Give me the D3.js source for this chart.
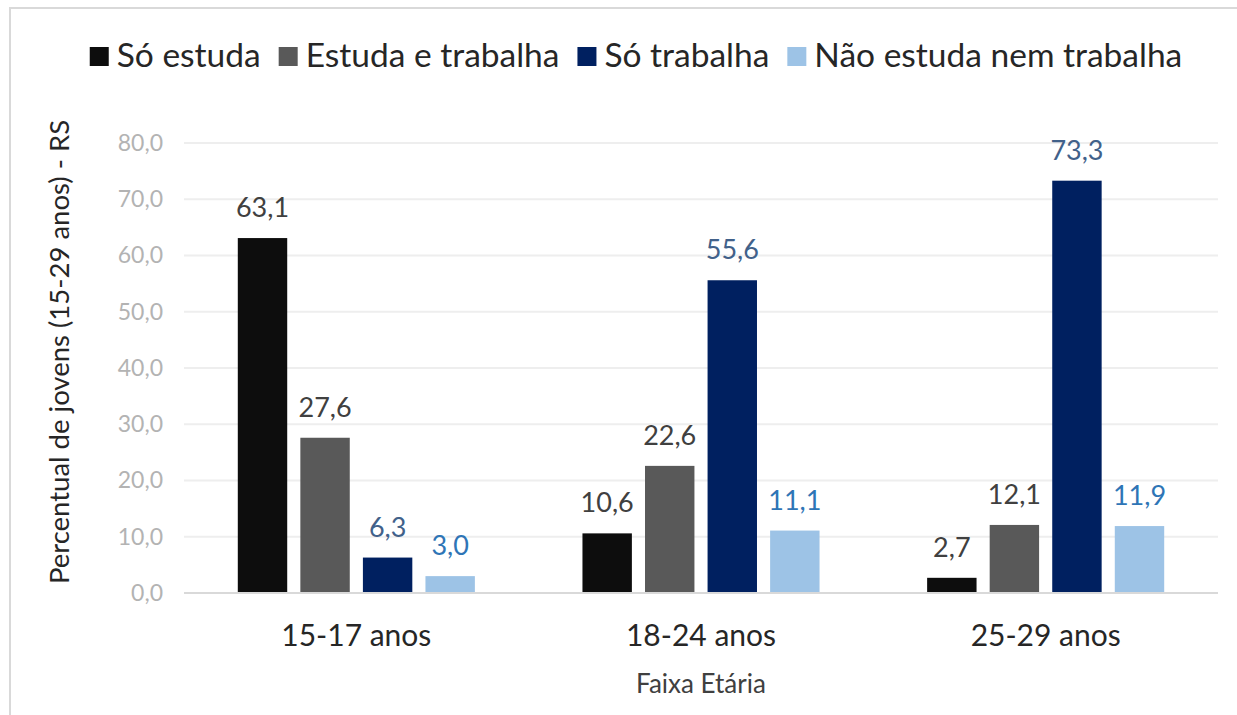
<!DOCTYPE html>
<html>
<head>
<meta charset="utf-8">
<script src="https://cdn.jsdelivr.net/npm/d3@7"></script>
<style>
  html, body { margin: 0; padding: 0; background: #fff; }
  svg { display: block; font-family: Lato, "Open Sans", sans-serif; }
</style>
</head>
<body>
<svg id="chart" width="1237" height="715"></svg>
<script>
// dados
const categories = ['15-17 anos', '18-24 anos', '25-29 anos'];
const seriesNames = ['Só estuda', 'Estuda e trabalha', 'Só trabalha', 'Não estuda nem trabalha'];
const soEstuda = [63.1, 10.6, 2.7];
const estudaTrabalha = [27.6, 22.6, 12.1];
const soTrabalha = [6.3, 55.6, 73.3];
const naoEstuda = [3.0, 11.1, 11.9];
const yTicks = [0, 10, 20, 30, 40, 50, 60, 70, 80];

const barColors = ['#0d0d0d', '#595959', '#002060', '#9dc3e6'];
const labelColors = ['#404040', '#404040', '#41618a', '#2e75b6'];

const seriesValues = [soEstuda, estudaTrabalha, soTrabalha, naoEstuda];
const rows = [];
seriesValues.forEach((vals, s) => {
  vals.forEach((v, c) => rows.push({ serie: seriesNames[s], cat: categories[c], value: v, idx: s }));
});

const fmt = v => d3.format('.1f')(v).replace('.', ',');

const svg = d3.select('#chart');

// moldura
svg.append('rect')
    .attr('x', 10).attr('y', 8)
    .attr('width', 1300).attr('height', 800)
    .attr('fill', '#fff')
    .attr('stroke', '#d9d9d9')
    .attr('stroke-width', 2);

// area do grafico
const plotLeft = 184, plotRight = 1218, plotTop = 143, plotBottom = 593;

const yScale = d3.scaleLinear().domain([0, 80]).range([plotBottom, plotTop]);
const x0 = d3.scaleBand().domain(categories).range([plotLeft, plotRight]).padding(0);
const x1 = d3.scaleBand().domain(seriesNames)
    .range([0, x0.bandwidth()])
    .paddingInner(0.21)
    .paddingOuter(0.86);

// linhas de grade
svg.append('g')
  .selectAll('line')
  .data(yTicks.filter(t => t > 0))
  .enter().append('line')
    .attr('x1', plotLeft).attr('x2', plotRight)
    .attr('y1', d => yScale(d)).attr('y2', d => yScale(d))
    .attr('stroke', '#eeeeee')
    .attr('stroke-width', 2);

// eixo y (so rotulos)
const yAxis = svg.append('g')
    .attr('transform', `translate(${plotLeft}, 0)`)
    .call(d3.axisLeft(yScale).tickValues(yTicks).tickFormat(fmt).tickSize(0).tickPadding(21));
yAxis.select('.domain').remove();
yAxis.selectAll('text')
    .attr('fill', '#b3b3b3')
    .style('font-size', '23px')
    .style('font-family', 'Lato, sans-serif');

// barras
svg.append('g')
  .selectAll('rect')
  .data(rows)
  .enter().append('rect')
    .attr('x', d => x0(d.cat) + x1(d.serie))
    .attr('y', d => yScale(d.value))
    .attr('width', x1.bandwidth())
    .attr('height', d => yScale(0) - yScale(d.value))
    .attr('fill', d => barColors[d.idx]);

// rotulos de dados
svg.append('g')
  .selectAll('text')
  .data(rows)
  .enter().append('text')
    .attr('x', d => x0(d.cat) + x1(d.serie) + x1.bandwidth() / 2)
    .attr('y', d => yScale(d.value) - 21)
    .attr('text-anchor', 'middle')
    .attr('fill', d => labelColors[d.idx])
    .style('font-size', '27px')
    .text(d => fmt(d.value));

// eixo x
svg.append('line')
    .attr('x1', plotLeft).attr('x2', plotRight)
    .attr('y1', plotBottom).attr('y2', plotBottom)
    .attr('stroke', '#d9d9d9')
    .attr('stroke-width', 2);

svg.append('g')
  .selectAll('text')
  .data(categories)
  .enter().append('text')
    .attr('x', d => x0(d) + x0.bandwidth() / 2)
    .attr('y', 646)
    .attr('text-anchor', 'middle')
    .attr('fill', '#262626')
    .style('font-size', '30px')
    .text(d => d);

// titulos dos eixos
svg.append('text')
    .attr('x', (plotLeft + plotRight) / 2)
    .attr('y', 693)
    .attr('text-anchor', 'middle')
    .attr('fill', '#404040')
    .style('font-size', '26px')
    .text('Faixa Etária');

svg.append('text')
    .attr('transform', 'translate(69, 352) rotate(-90)')
    .attr('text-anchor', 'middle')
    .attr('fill', '#262626')
    .style('font-size', '27.5px')
    .text('Percentual de jovens (15-29 anos) - RS');

// legenda
const legend = svg.append('g');
const items = legend.selectAll('g')
  .data(seriesNames)
  .enter().append('g');

items.append('rect')
    .attr('width', 19).attr('height', 19)
    .attr('y', 47)
    .attr('fill', (d, i) => barColors[i]);

items.append('text')
    .attr('x', 27)
    .attr('y', 67)
    .attr('fill', '#262626')
    .style('font-size', '33.5px')
    .text(d => d);

const widths = [];
items.each(function () {
  widths.push(d3.select(this).select('text').node().getComputedTextLength());
});
const total = d3.sum(widths, w => 27 + w) + 18 * (widths.length - 1);
let cursor = 636 - total / 2;
items.attr('transform', (d, i) => {
  const t = `translate(${cursor}, 0)`;
  cursor += 27 + widths[i] + 18;
  return t;
});
</script>
</body>
</html>
